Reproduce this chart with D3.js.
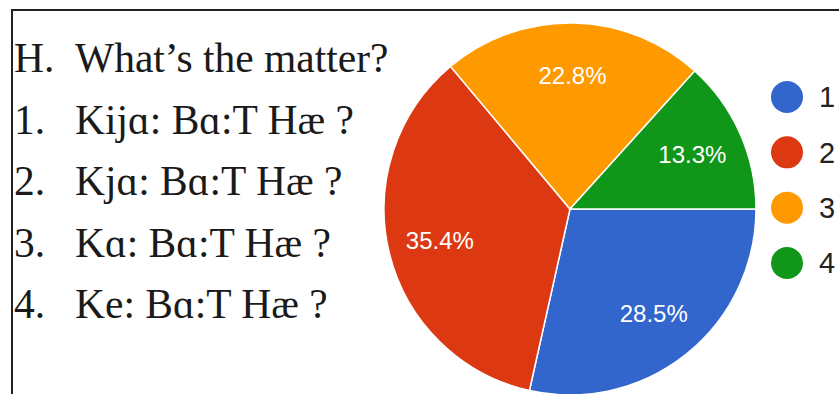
<!DOCTYPE html>
<html>
<head>
<meta charset="utf-8">
<script src="https://cdn.jsdelivr.net/npm/d3@7"></script>
<style>
  html, body { margin: 0; padding: 0; background: #fff; }
  svg { display: block; }
</style>
</head>
<body>
<svg id="chart" width="839" height="394"></svg>
<script>
// Data
const categories = ["1", "2", "3", "4"];
const values = [28.5, 35.4, 22.8, 13.3];
const sliceLabels = ["28.5%", "35.4%", "22.8%", "13.3%"];
const colors = ["#3366cc", "#dc3912", "#ff9900", "#109618"];
const questionMarkers = ["H.", "1.", "2.", "3.", "4."];
const questionTexts = ["What\u2019s the matter?", "Kij\u0251: B\u0251:T H\u00e6 ?", "Kj\u0251: B\u0251:T H\u00e6 ?", "K\u0251: B\u0251:T H\u00e6 ?", "Ke: B\u0251:T H\u00e6 ?"];

const W = 839, H = 394;
const svg = d3.select("#chart");

// Frame
svg.append("path")
  .attr("d", `M12,${H + 5} L12,10 L${W + 5},10`)
  .attr("fill", "none")
  .attr("stroke", "#222")
  .attr("stroke-width", 2);

// Left text block
const lineY = d3.scalePoint().domain(d3.range(questionTexts.length)).range([72, 318]);
const textG = svg.append("g")
  .attr("font-family", "'Liberation Serif', 'Times New Roman', serif")
  .attr("font-size", 41.5)
  .attr("fill", "#1a1a1a");
textG.selectAll("text.mk").data(questionMarkers).join("text")
  .attr("class", "mk")
  .attr("x", 14)
  .attr("y", (d, i) => lineY(i))
  .text(d => d);
textG.selectAll("text.qt").data(questionTexts).join("text")
  .attr("class", "qt")
  .attr("x", 75)
  .attr("y", (d, i) => lineY(i))
  .text(d => d);

// Pie
const cx = 570, cy = 209, r = 186;
const pie = d3.pie().sort(null).value(d => d)
  .startAngle(Math.PI / 2).endAngle(Math.PI / 2 + 2 * Math.PI);
const arcs = pie(values);
const arc = d3.arc().innerRadius(0).outerRadius(r);
const labelArc = d3.arc().innerRadius(r * 0.72).outerRadius(r * 0.72);

const g = svg.append("g").attr("transform", `translate(${cx},${cy})`);
g.selectAll("path").data(arcs).join("path")
  .attr("d", arc)
  .attr("fill", (d, i) => colors[i])
  .attr("stroke", "#fff")
  .attr("stroke-width", 1.5);

g.selectAll("text").data(arcs).join("text")
  .attr("transform", d => `translate(${labelArc.centroid(d)})`)
  .attr("text-anchor", "middle")
  .attr("dy", "0.36em")
  .attr("font-family", "Arial, 'Liberation Sans', sans-serif")
  .attr("font-size", 24)
  .attr("fill", "#fff")
  .text((d, i) => sliceLabels[i]);

// Legend
const legY = d3.scalePoint().domain(categories).range([97, 263]);
const leg = svg.append("g");
leg.selectAll("circle").data(categories).join("circle")
  .attr("cx", 787)
  .attr("cy", d => legY(d))
  .attr("r", 16)
  .attr("fill", (d, i) => colors[i]);
leg.selectAll("text").data(categories).join("text")
  .attr("x", 819)
  .attr("y", d => legY(d))
  .attr("dy", "0.36em")
  .attr("font-family", "Arial, 'Liberation Sans', sans-serif")
  .attr("font-size", 29)
  .attr("fill", "#222")
  .text(d => d);
</script>
</body>
</html>
